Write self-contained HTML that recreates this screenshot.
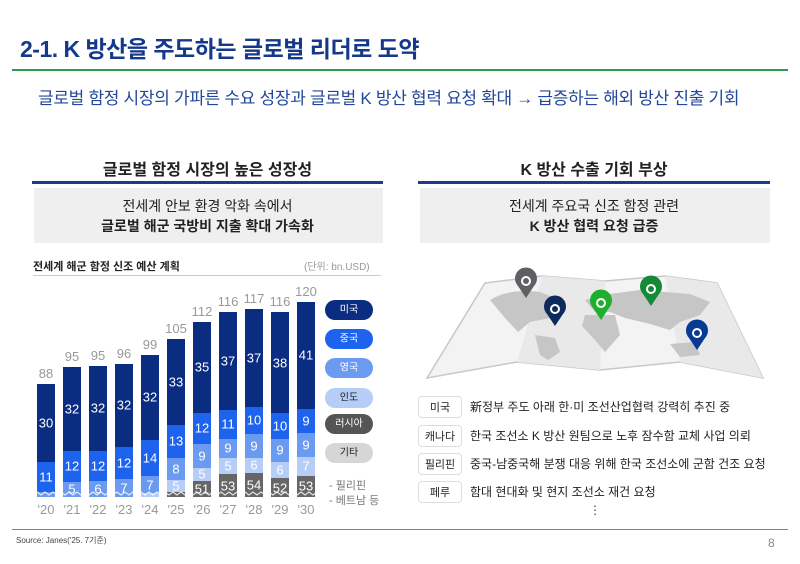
<!DOCTYPE html>
<html><head><meta charset="utf-8"><style>
body{margin:0;width:800px;height:564px;background:#fff;position:relative;overflow:hidden;font-family:"Liberation Sans","Noto Sans CJK KR",sans-serif}
.a{position:absolute;white-space:nowrap}
.tag{position:absolute;left:418px;width:44px;height:22px;border:1px solid #ddd;border-radius:4px;font-size:11px;text-align:center;line-height:22px;color:#222;box-sizing:border-box}
.row{position:absolute;left:470px;font-size:12px;color:#222;line-height:22px}
</style></head><body>
<div class="a" style="left:20px;top:30px;font-size:23px;font-weight:bold;color:#15398a;letter-spacing:-0.5px">2-1. K 방산을 주도하는 글로벌 리더로 도약</div>
<div class="a" style="left:12px;top:69px;width:776px;height:2px;background:#2e9c4e"></div>
<div class="a" style="left:38px;top:84px;font-size:17px;color:#23479a;letter-spacing:-0.3px">글로벌 함정 시장의 가파른 수요 성장과 글로벌 K 방산 협력 요청 확대 → 급증하는 해외 방산 진출 기회</div>

<div class="a" style="left:32px;top:156px;width:351px;text-align:center;font-size:16px;font-weight:bold;color:#222">글로벌 함정 시장의 높은 성장성</div>
<div class="a" style="left:32px;top:181px;width:351px;height:3px;background:#1c3c86"></div>
<div class="a" style="left:34px;top:188px;width:349px;height:55px;background:#efefef"></div>
<div class="a" style="left:32px;top:196px;width:351px;text-align:center;font-size:14px;color:#222;line-height:20px">전세계 안보 환경 악화 속에서<br><b>글로벌 해군 국방비 지출 확대 가속화</b></div>

<div class="a" style="left:418px;top:156px;width:352px;text-align:center;font-size:16px;font-weight:bold;color:#222">K 방산 수출 기회 부상</div>
<div class="a" style="left:418px;top:181px;width:352px;height:3px;background:#1c3c86"></div>
<div class="a" style="left:420px;top:188px;width:350px;height:55px;background:#efefef"></div>
<div class="a" style="left:418px;top:196px;width:352px;text-align:center;font-size:14px;color:#222;line-height:20px">전세계 주요국 신조 함정 관련<br><b>K 방산 협력 요청 급증</b></div>

<div class="a" style="left:33px;top:258px;font-size:11px;font-weight:bold;color:#222">전세계 해군 함정 신조 예산 계획</div>
<div class="a" style="left:304px;top:258px;font-size:10px;color:#999">(단위: bn.USD)</div>
<div class="a" style="left:33px;top:275px;width:348px;height:1px;background:#ccc"></div>

<svg class="a" style="left:0;top:0" width="400" height="530" font-family="Liberation Sans,Noto Sans CJK KR,sans-serif">
<g font-size="13" fill="#fff" text-anchor="middle" dominant-baseline="central">
<!-- '20 -->
<rect x="37" y="384" width="18" height="78" fill="#0a2d82"/><rect x="37" y="462" width="18" height="30" fill="#1d63ee"/><rect x="37" y="492" width="18" height="5" fill="#6b9bf0"/>
<text x="46" y="423">30</text><text x="46" y="477">11</text>
<!-- '21 -->
<rect x="63" y="367" width="18" height="84" fill="#0a2d82"/><rect x="63" y="451" width="18" height="31" fill="#1d63ee"/><rect x="63" y="482" width="18" height="15" fill="#6b9bf0"/>
<text x="72" y="409">32</text><text x="72" y="466">12</text><text x="72" y="489">5</text>
<!-- '22 -->
<rect x="89" y="366" width="18" height="85" fill="#0a2d82"/><rect x="89" y="451" width="18" height="30" fill="#1d63ee"/><rect x="89" y="481" width="18" height="16" fill="#6b9bf0"/>
<text x="98" y="408">32</text><text x="98" y="466">12</text><text x="98" y="489">6</text>
<!-- '23 -->
<rect x="115" y="364" width="18" height="83" fill="#0a2d82"/><rect x="115" y="447" width="18" height="32" fill="#1d63ee"/><rect x="115" y="479" width="18" height="18" fill="#6b9bf0"/>
<text x="124" y="405">32</text><text x="124" y="463">12</text><text x="124" y="488">7</text>
<!-- '24 -->
<rect x="141" y="355" width="18" height="85" fill="#0a2d82"/><rect x="141" y="440" width="18" height="36" fill="#1d63ee"/><rect x="141" y="476" width="18" height="17" fill="#6b9bf0"/><rect x="141" y="493" width="18" height="4" fill="#b6cdf7"/>
<text x="150" y="397">32</text><text x="150" y="458">14</text><text x="150" y="485">7</text>
<!-- '25 -->
<rect x="167" y="339" width="18" height="86" fill="#0a2d82"/><rect x="167" y="425" width="18" height="33" fill="#1d63ee"/><rect x="167" y="458" width="18" height="22" fill="#6b9bf0"/><rect x="167" y="480" width="18" height="12" fill="#b6cdf7"/><rect x="167" y="492" width="18" height="5" fill="#666"/>
<text x="176" y="382">33</text><text x="176" y="441">13</text><text x="176" y="469">8</text><text x="176" y="486">5</text>
<!-- '26 -->
<rect x="193" y="322" width="18" height="91" fill="#0a2d82"/><rect x="193" y="413" width="18" height="31" fill="#1d63ee"/><rect x="193" y="444" width="18" height="24" fill="#6b9bf0"/><rect x="193" y="468" width="18" height="13" fill="#b6cdf7"/><rect x="193" y="481" width="18" height="16" fill="#666"/>
<text x="202" y="367">35</text><text x="202" y="428">12</text><text x="202" y="456">9</text><text x="202" y="474">5</text><text x="202" y="489">51</text>
<!-- '27 -->
<rect x="219" y="312" width="18" height="98" fill="#0a2d82"/><rect x="219" y="410" width="18" height="29" fill="#1d63ee"/><rect x="219" y="439" width="18" height="19" fill="#6b9bf0"/><rect x="219" y="458" width="18" height="16" fill="#b6cdf7"/><rect x="219" y="474" width="18" height="23" fill="#666"/>
<text x="228" y="361">37</text><text x="228" y="424">11</text><text x="228" y="448">9</text><text x="228" y="466">5</text><text x="228" y="486">53</text>
<!-- '28 -->
<rect x="245" y="309" width="18" height="98" fill="#0a2d82"/><rect x="245" y="407" width="18" height="27" fill="#1d63ee"/><rect x="245" y="434" width="18" height="24" fill="#6b9bf0"/><rect x="245" y="458" width="18" height="15" fill="#b6cdf7"/><rect x="245" y="473" width="18" height="24" fill="#666"/>
<text x="254" y="358">37</text><text x="254" y="420">10</text><text x="254" y="446">9</text><text x="254" y="465">6</text><text x="254" y="485">54</text>
<!-- '29 -->
<rect x="271" y="312" width="18" height="101" fill="#0a2d82"/><rect x="271" y="413" width="18" height="26" fill="#1d63ee"/><rect x="271" y="439" width="18" height="23" fill="#6b9bf0"/><rect x="271" y="462" width="18" height="16" fill="#b6cdf7"/><rect x="271" y="478" width="18" height="19" fill="#666"/>
<text x="280" y="363">38</text><text x="280" y="426">10</text><text x="280" y="450">9</text><text x="280" y="470">6</text><text x="280" y="488">52</text>
<!-- '30 -->
<rect x="297" y="302" width="18" height="107" fill="#0a2d82"/><rect x="297" y="409" width="18" height="24" fill="#1d63ee"/><rect x="297" y="433" width="18" height="24" fill="#6b9bf0"/><rect x="297" y="457" width="18" height="19" fill="#b6cdf7"/><rect x="297" y="476" width="18" height="21" fill="#666"/>
<text x="306" y="355">41</text><text x="306" y="421">9</text><text x="306" y="445">9</text><text x="306" y="466">7</text><text x="306" y="486">53</text>
</g>
<path d="M33 495 l4 -3 l4 3 l4 -3 l4 3 l4 -3 l4 3 l4 -3 l4 3 l4 -3 l4 3 l4 -3 l4 3 l4 -3 l4 3 l4 -3 l4 3 l4 -3 l4 3 l4 -3 l4 3 l4 -3 l4 3 l4 -3 l4 3 l4 -3 l4 3 l4 -3 l4 3 l4 -3 l4 3 l4 -3 l4 3 l4 -3 l4 3 l4 -3 l4 3 l4 -3 l4 3 l4 -3 l4 3 l4 -3 l4 3 l4 -3 l4 3 l4 -3 l4 3 l4 -3 l4 3 l4 -3 l4 3 l4 -3 l4 3 l4 -3 l4 3 l4 -3 l4 3 l4 -3 l4 3 l4 -3 l4 3 l4 -3 l4 3 l4 -3 l4 3 l4 -3 l4 3 l4 -3 l4 3 l4 -3 l4 3 l4 -3 l4 3 l4 -3 l4 3 l4 -3 l4 3" fill="none" stroke="#fff" stroke-width="1.2" opacity="0.8"/>
<g font-size="13" fill="#999" text-anchor="middle">
<text x="46" y="378">88</text><text x="72" y="361">95</text><text x="98" y="360">95</text><text x="124" y="358">96</text><text x="150" y="349">99</text><text x="176" y="333">105</text><text x="202" y="316">112</text><text x="228" y="306">116</text><text x="254" y="303">117</text><text x="280" y="306">116</text><text x="306" y="296">120</text>
<text x="46" y="514">'20</text><text x="72" y="514">'21</text><text x="98" y="514">'22</text><text x="124" y="514">'23</text><text x="150" y="514">'24</text><text x="176" y="514">'25</text><text x="202" y="514">'26</text><text x="228" y="514">'27</text><text x="254" y="514">'28</text><text x="280" y="514">'29</text><text x="306" y="514">'30</text>
</g>
<g font-size="10" text-anchor="middle" dominant-baseline="central">
<rect x="325" y="300" width="48" height="20" rx="10" fill="#0a2d82"/><text x="349" y="310" fill="#fff">미국</text>
<rect x="325" y="329" width="48" height="20" rx="10" fill="#1d63ee"/><text x="349" y="339" fill="#fff">중국</text>
<rect x="325" y="358" width="48" height="20" rx="10" fill="#6b9bf0"/><text x="349" y="368" fill="#fff">영국</text>
<rect x="325" y="388" width="48" height="20" rx="10" fill="#b6cdf7"/><text x="349" y="398" fill="#222">인도</text>
<rect x="325" y="414" width="48" height="20" rx="10" fill="#555"/><text x="349" y="424" fill="#fff">러시아</text>
<rect x="325" y="443" width="48" height="20" rx="10" fill="#d6d6d6"/><text x="349" y="453" fill="#222">기타</text>
</g>
<text x="329" y="489" font-size="11" fill="#777">-  필리핀</text>
<text x="329" y="504" font-size="11" fill="#777">-  베트남 등</text>
</svg>

<svg class="a" style="left:410px;top:260px" width="370" height="130">
<polygon points="75,23 132,16 195,21 255,16 307,23 353,118 270,102 190,110 107,102 17,118" fill="#f3f3f3" stroke="#c8c8c8" stroke-width="1.5"/>
<polygon points="132,16 195,21 190,110 107,102" fill="#e9e9e9"/>
<polygon points="255,16 307,23 353,118 270,102" fill="#e9e9e9"/>
<g fill="#c6c6c6">
<path d="M80 40 Q100 28 130 32 L150 40 L140 58 L120 62 L108 72 L95 58 Z"/>
<path d="M125 75 L145 78 L150 92 L138 100 L130 95 Z"/>
<path d="M175 40 L200 34 L230 30 L280 34 L300 42 L290 55 L270 62 L260 70 L240 64 L215 58 L200 52 L185 52 Z"/>
<path d="M175 55 L205 55 L210 75 L195 92 L185 80 L172 66 Z"/>
<path d="M260 84 L285 82 L290 95 L270 97 Z"/>
</g>
<g>
<path d="M116 30 a11 11 0 1 1 0.1 0 Z" fill="none"/>
<path d="M116 38 L108 26 A11 11 0 1 1 124 26 Z" fill="#5f6064"/><circle cx="116" cy="21" r="5" fill="#fff"/><circle cx="116" cy="21" r="3" fill="#5f6064"/>
<path d="M145 66 L137 54 A11 11 0 1 1 153 54 Z" fill="#0c2a5c"/><circle cx="145" cy="49" r="5" fill="#fff"/><circle cx="145" cy="49" r="3" fill="#0c2a5c"/>
<path d="M191 60 L183 48 A11 11 0 1 1 199 48 Z" fill="#1fae2d"/><circle cx="191" cy="43" r="5" fill="#fff"/><circle cx="191" cy="43" r="3" fill="#1fae2d"/>
<path d="M241 46 L233 34 A11 11 0 1 1 249 34 Z" fill="#148a36"/><circle cx="241" cy="29" r="5" fill="#fff"/><circle cx="241" cy="29" r="3" fill="#148a36"/>
<path d="M287 90 L279 78 A11 11 0 1 1 295 78 Z" fill="#093a93"/><circle cx="287" cy="73" r="5" fill="#fff"/><circle cx="287" cy="73" r="3" fill="#093a93"/>
</g>
</svg>

<div class="tag" style="top:396px">미국</div><div class="row" style="top:396px">新정부 주도 아래 한·미 조선산업협력 강력히 추진 중</div>
<div class="tag" style="top:425px">캐나다</div><div class="row" style="top:425px">한국 조선소 K 방산 원팀으로 노후 잠수함 교체 사업 의뢰</div>
<div class="tag" style="top:453px">필리핀</div><div class="row" style="top:453px">중국-남중국해 분쟁 대응 위해 한국 조선소에 군함 건조 요청</div>
<div class="tag" style="top:481px">페루</div><div class="row" style="top:481px">함대 현대화 및 현지 조선소 재건 요청</div>
<div class="a" style="left:589px;top:503px;font-size:12px;color:#444">⋮</div>

<div class="a" style="left:12px;top:529px;width:776px;height:1px;background:#4aa56a"></div>
<div class="a" style="left:16px;top:535px;font-size:8px;color:#444">Source: Janes('25. 7기준)</div>
<div class="a" style="left:768px;top:536px;font-size:12px;color:#888">8</div>
</body></html>
